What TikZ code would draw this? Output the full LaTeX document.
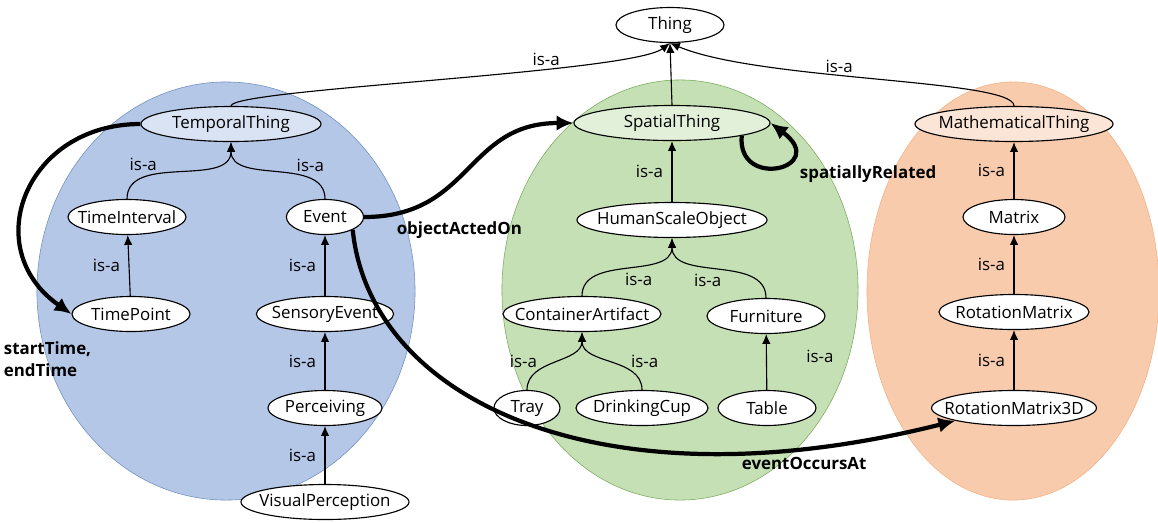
\documentclass[tikz,border=0pt]{standalone}
\usepackage{fontspec}
\setmainfont{Open Sans}
\usetikzlibrary{shapes.geometric,arrows.meta}
\definecolor{tempbg}{HTML}{B4C7E7}
\definecolor{templine}{HTML}{6F8FC0}
\definecolor{tempnode}{HTML}{DAE3F3}
\definecolor{spabg}{HTML}{C5E0B4}
\definecolor{spaline}{HTML}{7BAA5E}
\definecolor{spanode}{HTML}{E2F0D9}
\definecolor{mathbg}{HTML}{F8CBAD}
\definecolor{mathline}{HTML}{F4B183}
\definecolor{mathnode}{HTML}{FBE5D6}
\tikzset{
    cls/.style={ellipse,draw,fill=white,line width=0.8pt,inner xsep=-25pt,inner ysep=0pt,
      minimum height=0.875cm,font=\fontsize{12}{14}\selectfont},
    isa/.style={line width=0.8pt,-{Latex[length=7pt,width=6pt]}},
    rel/.style={line width=3pt,-{Latex[length=12pt,width=11pt]}},
    isalbl/.style={font=\fontsize{12}{14}\selectfont,inner sep=1pt},
    rellbl/.style={font=\fontsize{12}{15.5}\selectfont\bfseries,inner sep=1pt},
  }
\begin{document}
\begin{tikzpicture}[x=0.025cm,y=0.025cm]
	\useasboundingbox (0,0) rectangle (1158,-522);
	%FONDS
	\draw[fill=tempbg,draw=templine] (226,-291) ellipse [x radius=4.725cm,y radius=5.225cm];
	\draw[fill=spabg,draw=spaline] (680,-290) ellipse [x radius=4.45cm,y radius=5.25cm];
	\draw[fill=mathbg,draw=mathline] (1013,-291) ellipse [x radius=3.65cm,y radius=5.225cm];
	%THING
	\node[cls,minimum width=2.7cm] (Thing) at (670,-25) {Thing};
	%TEMPOREL
	\node[cls,fill=tempnode,minimum width=4.5cm] (TemporalThing) at (231,-124) {TemporalThing};
	\node[cls,minimum width=2.95cm] (TimeInterval) at (127,-217) {TimeInterval};
	\node[cls,minimum width=1.93cm] (Event) at (325,-217) {Event};
	\node[cls,minimum width=2.95cm] (TimePoint) at (131,-314) {TimePoint};
	\node[cls,minimum width=3.43cm] (SensoryEvent) at (325,-314) {SensoryEvent};
	\node[cls,minimum width=2.85cm] (Perceiving) at (325,-408) {Perceiving};
	\node[cls,minimum width=4.2cm] (VisualPerception) at (325,-502) {VisualPerception};
	%SPATIAL
	\node[cls,fill=spanode,minimum width=4.9cm] (SpatialThing) at (672,-123) {SpatialThing};
	\node[cls,minimum width=4.75cm] (HumanScaleObject) at (672,-220) {HumanScaleObject};
	\node[cls,minimum width=3.95cm] (ContainerArtifact) at (582,-314) {ContainerArtifact};
	\node[cls,minimum width=2.95cm] (Furniture) at (766,-316) {Furniture};
	\node[cls,minimum width=1.65cm] (Tray) at (527,-408) {Tray};
	\node[cls,minimum width=3.3cm] (DrinkingCup) at (642,-408) {DrinkingCup};
	\node[cls,minimum width=2.45cm] (Table) at (767,-408) {Table};
	%MATH
	\node[cls,fill=mathnode,minimum width=4.95cm] (MathematicalThing) at (1014,-124) {MathematicalThing};
	\node[cls,minimum width=2.55cm] (Matrix) at (1014,-217) {Matrix};
	\node[cls,minimum width=3.75cm] (RotationMatrix) at (1014,-312) {RotationMatrix};
	\node[cls,minimum width=4.12cm] (RotationMatrix3D) at (1014,-408) {RotationMatrix3D};
	%IS-A vers Thing
	\draw[isa] (TemporalThing.north) .. controls +(0,17) and +(-40,-30) .. node[isalbl,pos=0.68,above]{is-a} (Thing.south);
	\draw[isa] (SpatialThing.north) -- (Thing.south);
	\draw[isa] (MathematicalThing.north) .. controls +(0,27) and +(90,-38) .. node[isalbl,pos=0.58,above]{is-a} (Thing.south);
	%IS-A temporel
	\draw[isa] (TimeInterval.north) to[out=90,in=-90] node[isalbl,pos=0.25,above=3pt]{is-a} (TemporalThing.south);
	\draw[isa] (Event.north) to[out=90,in=-90] node[isalbl,pos=0.25,above=3pt]{is-a} (TemporalThing.south);
	\draw[isa] (TimePoint) -- node[isalbl,midway,left=5pt]{is-a} (TimeInterval);
	\draw[isa] (SensoryEvent) -- node[isalbl,midway,left=5pt]{is-a} (Event);
	\draw[isa] (Perceiving) -- node[isalbl,midway,left=5pt]{is-a} (SensoryEvent);
	\draw[isa] (VisualPerception) -- node[isalbl,midway,left=5pt]{is-a} (Perceiving);
	%IS-A spatial
	\draw[isa] (HumanScaleObject) -- node[isalbl,midway,left=5pt]{is-a} (SpatialThing);
	\draw[isa] (ContainerArtifact.north) to[out=90,in=-90] node[isalbl,pos=0.45,below right=2pt]{is-a} (HumanScaleObject.south);
	\draw[isa] (Furniture.north) to[out=90,in=-90] node[isalbl,pos=0.45,below left=2pt]{is-a} (HumanScaleObject.south);
	\draw[isa] (Tray.north) to[out=90,in=-90] node[isalbl,pos=0.3,above left=0pt]{is-a} (ContainerArtifact.south);
	\draw[isa] (DrinkingCup.north) to[out=90,in=-90] node[isalbl,pos=0.3,above right=0pt]{is-a} (ContainerArtifact.south);
	\draw[isa] (Table) -- node[isalbl,pos=0.6,right=27pt]{is-a} (Furniture);
	%IS-A math
	\draw[isa] (Matrix) -- node[isalbl,midway,left=5pt]{is-a} (MathematicalThing);
	\draw[isa] (RotationMatrix) -- node[isalbl,midway,left=5pt]{is-a} (Matrix);
	\draw[isa] (RotationMatrix3D) -- node[isalbl,midway,left=5pt]{is-a} (RotationMatrix);
	%RELATIONS
	\draw[rel] (TemporalThing.west) to[out=180,in=145,looseness=1.45] node[rellbl,pos=1,anchor=north,align=left,xshift=-17pt,yshift=-17pt]{startTime,\\endTime} (TimePoint.west);
	\draw[rel] (Event.east) to[out=0,in=180,looseness=1.2] node[rellbl,pos=0.1,anchor=north west,yshift=-3pt]{objectActedOn} (SpatialThing.west);
	\draw[rel] (SpatialThing.south east) .. controls +(-5,-55) and +(60,-45) .. node[rellbl,pos=0.5,anchor=west,xshift=14pt,yshift=-5pt]{spatiallyRelated} (SpatialThing.east);
	\draw[rel] (Event.south east) .. controls (370,-400) and (600,-510) .. node[rellbl,pos=0.85,below=4pt]{eventOccursAt} (RotationMatrix3D.south west);
\end{tikzpicture}
\end{document}
